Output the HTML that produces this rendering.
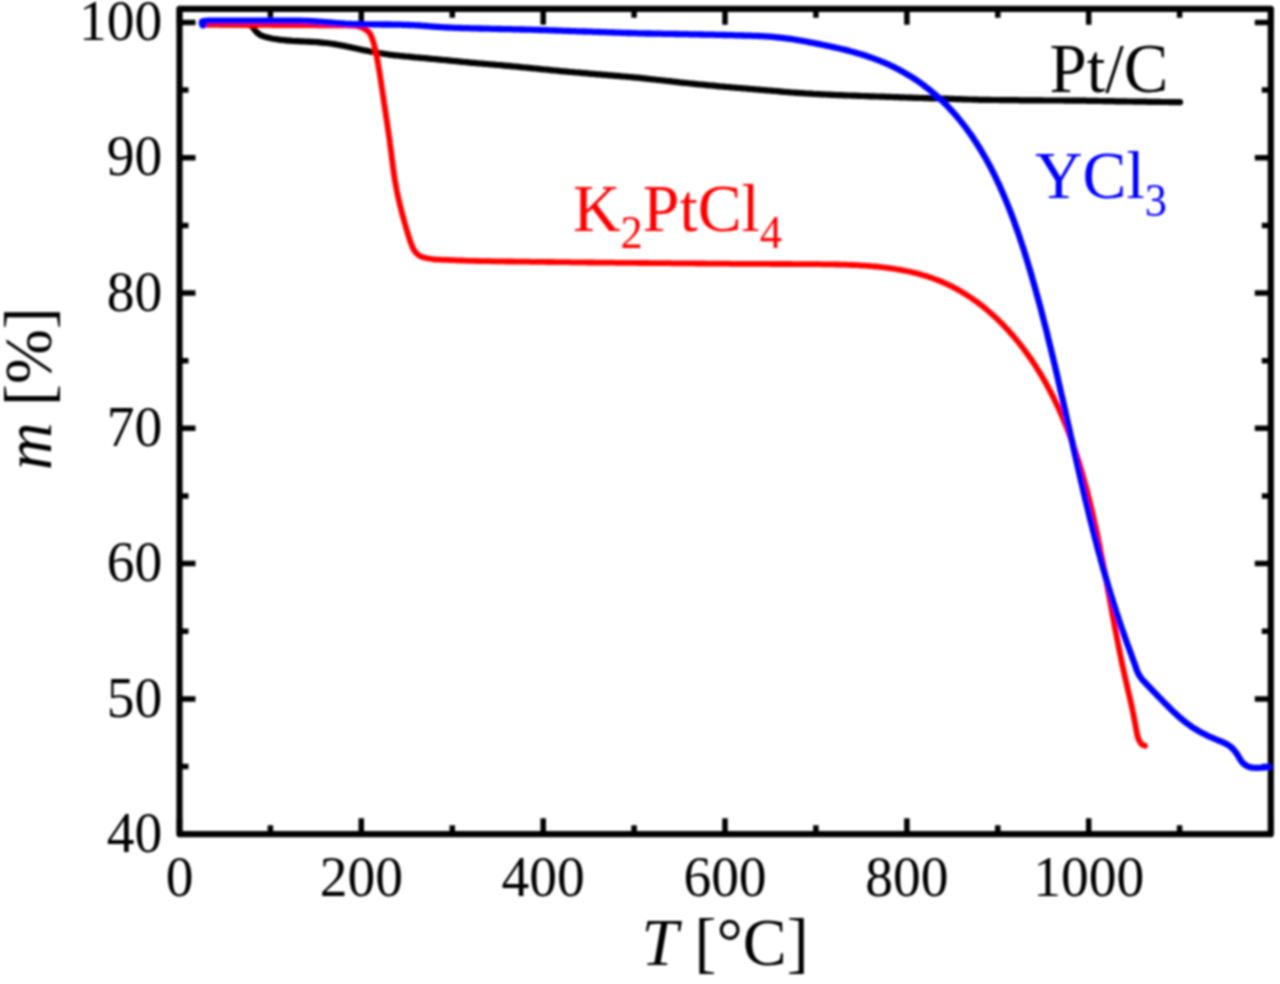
<!DOCTYPE html>
<html><head><meta charset="utf-8"><style>
html,body{margin:0;padding:0;background:#fff;}
body{width:1280px;height:984px;overflow:hidden;}
svg{display:block;} text{font-family:"Liberation Serif",serif;}
</style></head><body>
<svg width="1280" height="984" viewBox="0 0 1280 984">
<defs><filter id="bl" x="0" y="0" width="1280" height="984" filterUnits="userSpaceOnUse"><feGaussianBlur stdDeviation="0.8"/></filter></defs>
<rect width="1280" height="984" fill="#fff"/>
<g filter="url(#bl)">
<path d="M179.5 834.2V818.2M179.5 8.8V24.8M270.4 834.2V825.2M270.4 8.8V17.8M361.3 834.2V818.2M361.3 8.8V24.8M452.3 834.2V825.2M452.3 8.8V17.8M543.2 834.2V818.2M543.2 8.8V24.8M634.1 834.2V825.2M634.1 8.8V17.8M725.0 834.2V818.2M725.0 8.8V24.8M815.9 834.2V825.2M815.9 8.8V17.8M906.9 834.2V818.2M906.9 8.8V24.8M997.8 834.2V825.2M997.8 8.8V17.8M1088.7 834.2V818.2M1088.7 8.8V24.8M1179.6 834.2V825.2M1179.6 8.8V17.8M1270.8 834.2V818.2M1270.8 8.8V24.8M179.5 834.2H195.5M1270.8 834.2H1254.8M179.5 766.6H188.5M1270.8 766.6H1261.8M179.5 698.9H195.5M1270.8 698.9H1254.8M179.5 631.2H188.5M1270.8 631.2H1261.8M179.5 563.6H195.5M1270.8 563.6H1254.8M179.5 496.0H188.5M1270.8 496.0H1261.8M179.5 428.3H195.5M1270.8 428.3H1254.8M179.5 360.7H188.5M1270.8 360.7H1261.8M179.5 293.0H195.5M1270.8 293.0H1254.8M179.5 225.4H188.5M1270.8 225.4H1261.8M179.5 157.7H195.5M1270.8 157.7H1254.8M179.5 90.1H188.5M1270.8 90.1H1261.8M179.5 22.4H195.5M1270.8 22.4H1254.8" stroke="#000" stroke-width="5.5" fill="none"/>
<rect x="179.5" y="8.8" width="1091.3" height="825.4000000000001" fill="none" stroke="#000" stroke-width="6.2" stroke-linejoin="round"/>
<g fill="none" stroke-linecap="round" stroke-linejoin="round"><path d="M208.0 24.2L210.0 24.2L212.1 24.2L214.3 24.2L216.3 24.2L218.4 24.2L220.5 24.3L222.7 24.3L224.9 24.3L226.9 24.3L228.7 24.3L230.3 24.3L232.1 24.3L234.1 24.3L236.3 24.3L238.5 24.3L240.6 24.4L242.7 24.4L244.8 24.4L246.7 24.4L248.5 24.6L250.2 25.2L253.2 27.7L254.4 29.3L255.5 30.8L257.5 32.9L260.3 34.9L262.3 35.9L264.4 36.6L266.6 37.3L268.8 37.8L270.9 38.3L273.0 38.7L275.1 39.0L277.2 39.3L279.1 39.6L280.8 39.8L282.5 40.0L284.3 40.2L286.1 40.4L288.0 40.6L289.9 40.7L292.0 40.9L294.1 41.0L296.2 41.1L298.3 41.2L300.4 41.3L302.5 41.4L304.6 41.5L306.7 41.6L308.8 41.7L310.9 41.8L313.1 41.9L315.2 42.0L317.4 42.2L319.5 42.4L321.6 42.6L323.7 42.8L325.9 43.0L328.0 43.2L330.1 43.5L332.0 43.8L334.0 44.1L336.0 44.4L337.9 44.8L339.9 45.1L341.9 45.5L343.8 45.9L345.8 46.3L347.7 46.7L349.7 47.1L351.9 47.6L354.0 48.0L356.2 48.5L358.4 49.0L360.5 49.4L362.7 49.9L364.9 50.4L367.1 50.8L369.3 51.3L371.4 51.7L373.4 52.0L375.4 52.4L377.3 52.7L379.3 53.1L381.3 53.4L383.2 53.7L385.2 54.0L387.2 54.3L389.2 54.6L391.1 54.8L393.1 55.1L395.1 55.3L397.1 55.5L399.0 55.7L401.0 56.0L403.0 56.2L405.0 56.4L406.9 56.5L408.9 56.7L410.9 56.9L412.9 57.1L414.8 57.3L416.8 57.5L418.8 57.6L420.8 57.8L422.9 58.0L425.0 58.2L427.1 58.4L429.2 58.6L431.3 58.8L433.4 59.0L435.5 59.2L437.6 59.4L439.7 59.6L441.8 59.8L443.9 60.0L446.0 60.2L448.1 60.4L450.2 60.6L452.2 60.8L454.1 61.0L456.1 61.2L458.1 61.4L460.1 61.6L462.1 61.8L464.1 62.0L466.1 62.2L468.1 62.4L470.2 62.6L472.2 62.8L474.2 62.9L476.2 63.1L478.2 63.3L480.2 63.5L482.2 63.6L484.3 63.8L486.3 64.0L488.3 64.2L490.3 64.3L492.3 64.5L494.3 64.7L496.4 64.9L498.4 65.0L500.4 65.2L502.4 65.4L504.4 65.6L506.4 65.8L508.5 65.9L510.5 66.1L512.5 66.3L514.5 66.5L516.5 66.7L518.5 66.9L520.6 67.1L522.6 67.3L524.6 67.5L526.6 67.7L528.6 67.9L530.7 68.1L532.7 68.3L534.7 68.5L536.7 68.7L538.7 68.9L540.7 69.1L542.8 69.3L544.8 69.5L546.8 69.7L548.8 69.9L550.8 70.1L552.9 70.3L554.9 70.5L556.9 70.7L558.9 70.9L560.9 71.1L562.9 71.3L564.9 71.4L567.0 71.6L569.0 71.8L571.0 72.0L573.0 72.2L575.1 72.4L577.1 72.5L579.1 72.7L581.2 72.9L583.2 73.1L585.2 73.2L587.3 73.4L589.3 73.6L591.3 73.8L593.3 73.9L595.4 74.1L597.4 74.3L599.4 74.4L601.5 74.6L603.5 74.8L605.5 74.9L607.5 75.1L609.6 75.3L611.6 75.4L613.6 75.6L615.6 75.8L617.7 75.9L619.7 76.1L621.7 76.3L623.7 76.5L625.7 76.6L627.7 76.8L629.8 77.0L631.8 77.2L633.8 77.4L635.8 77.6L637.8 77.7L639.8 77.9L641.9 78.2L644.0 78.4L646.1 78.6L648.2 78.8L650.3 79.1L652.4 79.3L654.5 79.5L656.6 79.8L658.7 80.0L660.8 80.2L662.9 80.5L665.0 80.7L667.1 81.0L669.2 81.2L671.3 81.4L673.3 81.7L675.4 81.9L677.5 82.1L679.6 82.4L681.7 82.6L683.8 82.8L685.9 83.0L687.9 83.2L690.0 83.5L692.1 83.7L694.2 83.9L696.3 84.1L698.4 84.3L700.5 84.5L702.6 84.7L704.7 84.9L706.8 85.1L708.9 85.3L711.1 85.5L713.2 85.7L715.3 85.9L717.3 86.1L719.2 86.3L721.2 86.5L723.2 86.6L725.1 86.8L727.1 87.0L729.1 87.1L731.1 87.3L733.1 87.5L735.0 87.6L737.0 87.8L739.0 88.0L741.0 88.1L743.0 88.3L745.0 88.5L747.0 88.6L749.0 88.8L750.9 89.0L752.9 89.1L754.9 89.3L756.9 89.5L758.8 89.6L760.8 89.8L762.8 90.0L764.8 90.1L766.7 90.3L768.7 90.5L770.7 90.6L772.8 90.8L775.0 91.0L777.1 91.2L779.3 91.4L781.4 91.6L783.6 91.8L785.7 92.0L787.9 92.1L790.0 92.3L792.1 92.5L794.2 92.6L796.3 92.8L798.4 92.9L800.5 93.1L802.6 93.2L804.6 93.3L806.7 93.5L808.8 93.6L810.9 93.7L813.0 93.9L815.1 94.0L817.2 94.1L819.3 94.2L821.4 94.3L823.5 94.4L825.6 94.5L827.7 94.6L829.7 94.7L831.7 94.8L833.7 94.9L835.7 95.0L837.7 95.1L839.7 95.2L841.7 95.2L843.7 95.3L845.8 95.4L847.8 95.5L849.8 95.5L851.8 95.6L853.8 95.7L855.9 95.7L857.9 95.8L859.9 95.9L862.0 96.0L864.0 96.0L866.0 96.1L868.0 96.2L870.1 96.3L872.1 96.3L874.1 96.4L876.0 96.5L878.0 96.5L880.0 96.6L882.0 96.7L884.0 96.7L886.0 96.8L888.0 96.9L890.0 96.9L891.9 97.0L893.9 97.1L895.9 97.2L897.9 97.2L899.9 97.3L901.9 97.4L904.0 97.4L906.0 97.5L908.1 97.6L910.1 97.6L912.2 97.7L914.2 97.8L916.2 97.8L918.3 97.9L920.3 98.0L922.4 98.0L924.4 98.1L926.4 98.1L928.5 98.2L930.5 98.3L932.5 98.3L934.6 98.4L936.6 98.4L938.6 98.5L940.6 98.6L942.7 98.6L944.7 98.7L946.7 98.7L948.8 98.8L950.8 98.9L952.8 98.9L954.8 99.0L956.9 99.1L958.9 99.1L960.9 99.2L963.0 99.3L965.0 99.3L967.0 99.4L969.0 99.5L971.1 99.5L973.1 99.6L975.1 99.7L977.2 99.7L979.2 99.8L981.2 99.8L983.3 99.8L985.4 99.9L987.5 99.9L989.7 99.9L991.8 100.0L993.9 100.0L996.0 100.0L998.1 100.0L1000.2 100.1L1002.2 100.1L1004.2 100.1L1006.2 100.1L1008.1 100.1L1010.1 100.1L1012.1 100.2L1014.0 100.2L1016.0 100.2L1018.0 100.2L1020.0 100.3L1021.9 100.3L1023.9 100.3L1025.9 100.3L1027.9 100.3L1029.9 100.4L1031.9 100.4L1034.0 100.4L1036.0 100.4L1038.1 100.4L1040.1 100.4L1042.2 100.4L1044.2 100.5L1046.3 100.5L1048.3 100.5L1050.4 100.5L1052.4 100.5L1054.5 100.5L1056.5 100.5L1058.6 100.5L1060.6 100.5L1062.7 100.5L1064.7 100.6L1066.7 100.6L1068.8 100.6L1070.8 100.6L1072.9 100.6L1074.9 100.6L1077.0 100.6L1079.0 100.7L1081.0 100.7L1083.1 100.7L1085.1 100.7L1087.2 100.8L1089.2 100.8L1091.2 100.8L1093.3 100.9L1095.3 100.9L1097.4 100.9L1099.4 101.0L1101.5 101.0L1103.5 101.1L1105.6 101.1L1107.6 101.1L1109.7 101.2L1111.7 101.2L1113.8 101.2L1115.8 101.3L1117.9 101.3L1119.9 101.3L1122.0 101.4L1124.0 101.4L1126.1 101.4L1128.1 101.5L1130.1 101.5L1132.1 101.5L1134.1 101.6L1136.1 101.6L1138.1 101.6L1140.1 101.7L1142.0 101.7L1144.0 101.7L1146.0 101.7L1148.0 101.8L1149.9 101.8L1151.8 101.8L1153.6 101.8L1155.3 101.9L1157.4 101.9L1159.5 101.9L1161.6 102.0L1163.7 102.0L1165.7 102.0L1167.8 102.0L1169.8 102.1L1171.9 102.1L1173.9 102.1L1176.0 102.1L1178.0 102.2L1180.0 102.2" stroke="#000" stroke-width="6.2"/><path d="M204.0 24.5L206.0 24.5L208.1 24.5L210.2 24.5L212.2 24.6L214.2 24.6L216.3 24.6L218.4 24.6L220.4 24.6L222.5 24.6L224.6 24.6L226.7 24.7L228.8 24.7L230.6 24.7L232.4 24.7L234.3 24.7L236.3 24.7L238.3 24.7L240.3 24.7L242.3 24.8L244.3 24.8L246.3 24.8L248.3 24.8L250.3 24.8L252.3 24.8L254.3 24.8L256.3 24.8L258.4 24.9L260.4 24.9L262.4 24.9L264.4 24.9L266.4 24.9L268.4 24.9L270.4 24.9L272.5 25.0L274.5 25.0L276.5 25.0L278.5 25.0L280.5 25.0L282.5 25.0L284.5 25.0L286.5 25.0L288.6 25.1L290.6 25.1L292.6 25.1L294.6 25.1L296.6 25.1L298.6 25.1L300.6 25.1L302.7 25.2L304.7 25.2L306.7 25.2L308.7 25.2L310.7 25.2L312.7 25.2L314.7 25.2L316.7 25.2L318.7 25.3L320.7 25.3L322.7 25.3L324.7 25.3L326.6 25.3L328.4 25.3L330.2 25.3L332.3 25.3L334.4 25.4L336.5 25.4L338.6 25.4L340.6 25.4L342.7 25.4L344.8 25.4L346.8 25.4L348.9 25.5L350.9 25.5L352.8 25.5L354.7 25.7L357.3 26.1L359.9 26.8L362.0 27.6L364.1 28.6L367.0 30.5L368.4 31.7L369.5 33.0L370.6 34.9L371.6 37.0L372.4 39.2L373.2 41.4L373.9 43.8L374.5 46.3L375.1 48.7L375.6 51.2L376.1 53.8L376.6 56.0L377.0 58.0L377.3 59.9L377.7 61.9L378.1 64.0L378.4 66.1L378.8 68.2L379.1 70.3L379.5 72.3L379.8 74.2L380.1 76.2L380.4 78.2L380.7 80.1L381.0 82.1L381.3 84.1L381.6 86.1L381.9 88.1L382.2 90.1L382.5 92.1L382.8 94.1L383.1 96.2L383.4 98.2L383.7 100.2L384.0 102.2L384.3 104.3L384.6 106.3L384.9 108.3L385.2 110.3L385.5 112.4L385.8 114.4L386.1 116.4L386.4 118.4L386.7 120.4L387.0 122.4L387.3 124.5L387.6 126.5L387.9 128.6L388.2 130.8L388.6 133.0L388.9 135.1L389.2 137.3L389.5 139.5L389.8 141.6L390.0 143.8L390.3 146.0L390.6 148.1L390.9 150.3L391.2 152.3L391.4 154.3L391.6 156.3L391.9 158.2L392.1 160.2L392.4 162.2L392.6 164.2L392.9 166.1L393.1 168.1L393.4 170.1L393.7 172.0L394.0 174.0L394.2 176.0L394.6 178.0L394.9 180.2L395.3 182.4L395.7 184.7L396.1 186.9L396.5 189.1L396.9 191.3L397.4 193.6L397.9 195.8L398.4 198.0L398.8 200.2L399.3 202.1L399.7 204.0L400.2 205.9L400.7 207.7L401.1 209.6L401.6 211.5L402.1 213.4L402.6 215.3L403.1 217.1L403.6 219.0L404.1 220.8L404.7 222.7L405.2 224.6L405.7 226.3L406.2 228.2L406.8 230.3L407.5 232.4L408.1 234.5L408.7 236.5L409.3 238.5L410.0 240.5L410.7 242.7L411.6 244.9L412.4 247.0L413.4 249.0L414.5 250.9L415.7 252.4L417.0 253.8L418.5 255.1L420.1 256.1L421.9 256.9L423.9 257.5L426.0 257.9L427.8 258.3L429.9 258.7L431.9 259.0L434.0 259.3L436.1 259.5L438.3 259.6L440.4 259.7L442.6 259.8L444.8 259.9L447.0 259.9L449.2 260.0L451.4 260.1L453.7 260.2L456.0 260.3L458.2 260.4L460.2 260.5L462.1 260.5L464.1 260.6L466.1 260.7L468.2 260.8L470.3 260.8L472.3 260.9L474.3 260.9L476.3 261.0L478.3 261.0L480.3 261.1L482.3 261.1L484.3 261.1L486.3 261.2L488.3 261.2L490.3 261.2L492.3 261.3L494.3 261.3L496.3 261.3L498.3 261.4L500.4 261.4L502.4 261.4L504.4 261.4L506.4 261.5L508.5 261.5L510.5 261.5L512.5 261.5L514.5 261.6L516.5 261.6L518.6 261.6L520.6 261.6L522.6 261.7L524.6 261.7L526.7 261.7L528.7 261.7L530.7 261.8L532.7 261.8L534.8 261.8L536.8 261.8L538.8 261.9L540.8 261.9L542.9 261.9L544.9 261.9L546.9 262.0L548.9 262.0L551.0 262.0L553.0 262.0L555.0 262.1L557.0 262.1L559.0 262.1L561.1 262.1L563.1 262.2L565.1 262.2L567.1 262.2L569.2 262.2L571.2 262.3L573.2 262.3L575.2 262.3L577.3 262.3L579.3 262.4L581.3 262.4L583.3 262.4L585.4 262.4L587.4 262.5L589.4 262.5L591.4 262.5L593.5 262.5L595.5 262.6L597.5 262.6L599.5 262.6L601.5 262.6L603.6 262.6L605.6 262.7L607.6 262.7L609.6 262.7L611.7 262.7L613.7 262.7L615.7 262.8L617.7 262.8L619.7 262.8L621.8 262.8L623.8 262.8L625.8 262.8L627.8 262.9L629.9 262.9L631.9 262.9L633.9 262.9L635.9 262.9L637.9 263.0L640.0 263.0L642.0 263.0L644.0 263.0L646.0 263.0L648.1 263.0L650.1 263.1L652.1 263.1L654.1 263.1L656.1 263.1L658.2 263.1L660.2 263.1L662.2 263.2L664.2 263.2L666.2 263.2L668.3 263.2L670.3 263.2L672.3 263.3L674.3 263.3L676.4 263.3L678.4 263.3L680.4 263.3L682.4 263.3L684.4 263.4L686.5 263.4L688.5 263.4L690.5 263.4L692.5 263.4L694.6 263.4L696.6 263.5L698.6 263.5L700.6 263.5L702.6 263.5L704.7 263.5L706.7 263.6L708.7 263.6L710.7 263.6L712.8 263.6L714.8 263.6L716.8 263.6L718.8 263.7L720.8 263.7L722.9 263.7L724.9 263.7L726.9 263.7L728.9 263.7L731.0 263.8L733.0 263.8L735.0 263.8L737.0 263.8L739.0 263.8L741.1 263.8L743.1 263.8L745.1 263.8L747.1 263.8L749.1 263.9L751.2 263.9L753.2 263.9L755.2 263.9L757.2 263.9L759.2 263.9L761.3 263.9L763.3 263.9L765.3 263.9L767.3 263.9L769.3 263.9L771.4 264.0L773.4 264.0L775.4 264.0L777.4 264.0L779.3 264.0L781.3 264.0L783.3 264.0L785.2 264.0L787.1 264.0L789.0 264.0L790.9 264.0L792.8 264.1L794.7 264.1L796.6 264.1L798.4 264.1L800.2 264.1L802.1 264.1L804.8 264.1L807.6 264.2L810.4 264.2L813.3 264.2L816.2 264.2L819.1 264.2L822.1 264.3L825.1 264.3L828.0 264.3L830.9 264.4L833.9 264.4L836.6 264.5L838.5 264.5L840.3 264.6L842.1 264.6L843.9 264.7L845.8 264.7L847.7 264.8L849.6 264.9L851.5 265.0L853.4 265.0L855.4 265.1L857.3 265.2L859.3 265.3L861.3 265.5L863.3 265.6L865.3 265.7L867.3 265.9L869.3 266.0L871.4 266.2L873.4 266.3L875.4 266.5L877.4 266.7L879.4 266.9L881.4 267.1L883.4 267.4L885.4 267.6L887.3 267.8L889.3 268.1L891.3 268.4L893.2 268.7L895.1 269.0L897.1 269.3L899.0 269.6L900.8 269.9L902.6 270.3L904.5 270.6L906.3 271.0L908.1 271.3L909.8 271.7L911.6 272.1L913.4 272.6L916.0 273.2L918.7 273.9L921.5 274.7L924.2 275.5L926.9 276.3L929.6 277.2L932.3 278.1L934.9 279.1L937.4 280.0L939.9 281.0L942.3 282.0L944.7 283.1L947.1 284.2L949.5 285.3L951.8 286.4L954.1 287.6L956.4 288.9L958.7 290.1L960.9 291.4L963.1 292.7L965.3 294.1L967.5 295.5L969.7 296.9L971.8 298.3L974.0 299.8L976.1 301.3L978.2 302.9L980.3 304.5L982.4 306.1L984.4 307.7L986.4 309.4L988.4 311.1L990.4 312.8L992.4 314.6L994.3 316.4L996.3 318.2L998.2 320.0L1000.0 321.8L1001.9 323.6L1003.7 325.5L1005.5 327.4L1007.3 329.3L1009.1 331.3L1010.8 333.3L1012.6 335.3L1014.3 337.2L1015.9 339.2L1017.6 341.2L1019.2 343.2L1020.8 345.2L1022.4 347.3L1024.0 349.4L1025.5 351.5L1027.1 353.6L1028.6 355.7L1030.1 357.8L1031.6 360.0L1033.0 362.1L1034.5 364.3L1035.9 366.5L1037.3 368.7L1038.6 370.9L1040.0 373.1L1041.3 375.3L1042.6 377.5L1043.9 379.7L1045.2 382.0L1046.4 384.2L1047.7 386.5L1048.9 388.8L1050.1 391.1L1051.3 393.4L1052.5 395.7L1053.6 397.9L1054.7 400.2L1055.9 402.6L1057.0 405.0L1058.1 407.3L1059.2 409.7L1060.3 412.1L1061.3 414.6L1062.4 417.0L1063.4 419.4L1064.4 421.9L1065.5 424.4L1066.5 426.9L1067.5 429.4L1068.5 432.0L1069.4 434.5L1070.4 437.1L1071.3 439.6L1072.2 442.1L1073.1 444.6L1073.6 446.3L1074.2 447.9L1074.7 449.5L1075.3 451.2L1076.2 453.7L1077.0 456.4L1077.9 459.1L1078.7 461.7L1079.6 464.5L1080.4 467.3L1081.0 469.1L1081.5 470.9L1082.0 472.7L1082.5 474.5L1083.3 477.3L1084.1 480.2L1084.9 483.0L1085.4 484.8L1085.9 486.6L1086.4 488.5L1086.9 490.4L1087.4 492.2L1087.8 494.1L1088.3 496.0L1088.8 497.8L1089.3 499.7L1089.7 501.6L1090.2 503.5L1090.6 505.4L1091.1 507.3L1091.6 509.3L1092.0 511.2L1092.5 513.2L1093.0 515.2L1093.4 517.2L1093.9 519.1L1094.3 521.1L1094.7 523.1L1095.2 525.1L1095.6 527.0L1096.0 529.0L1096.5 531.0L1096.9 532.9L1097.3 534.9L1097.7 536.9L1098.1 538.9L1098.5 540.9L1099.0 542.9L1099.4 544.9L1099.8 546.9L1100.2 548.9L1100.5 550.8L1100.9 552.8L1101.3 554.8L1101.7 556.8L1102.1 558.8L1102.5 560.8L1102.9 562.8L1103.3 564.8L1103.7 566.8L1104.0 568.9L1104.4 570.8L1104.8 572.8L1105.1 574.7L1105.5 576.7L1105.9 578.7L1106.3 580.7L1106.6 582.7L1107.0 584.7L1107.4 586.7L1107.7 588.6L1108.1 590.6L1108.4 592.5L1108.8 594.5L1109.2 596.4L1109.5 598.4L1109.9 600.3L1110.2 602.2L1110.6 604.1L1110.9 606.0L1111.3 607.9L1111.6 609.8L1112.0 611.6L1112.3 613.4L1112.6 615.3L1113.2 618.1L1113.7 621.0L1114.2 623.8L1114.6 625.6L1114.9 627.4L1115.2 629.1L1115.6 631.0L1116.1 633.6L1116.6 636.3L1117.1 639.0L1117.7 641.7L1118.2 644.5L1118.7 647.2L1119.3 649.9L1119.8 652.6L1120.4 655.2L1120.9 657.8L1121.4 660.5L1122.0 663.1L1122.5 665.6L1123.1 668.1L1123.6 670.7L1124.2 673.2L1124.7 675.8L1125.3 678.3L1125.9 680.9L1126.5 683.4L1127.0 686.0L1127.6 688.5L1128.2 691.0L1128.8 693.6L1129.4 696.2L1130.0 698.8L1130.6 701.4L1131.2 703.9L1131.7 706.5L1132.3 708.9L1132.6 710.6L1133.0 712.3L1133.3 714.0L1133.7 715.8L1134.0 717.7L1134.4 719.6L1134.8 721.6L1135.2 723.8L1135.6 726.1L1136.0 728.4L1136.4 730.6L1136.8 732.7L1137.2 734.7L1137.7 736.7L1138.5 739.2L1139.7 741.5L1141.0 743.5L1142.7 744.9L1145.0 745.8" stroke="#f00" stroke-width="5.8"/><path d="M202.0 22.0L206.0 20.8L207.9 20.7L209.6 20.7L211.6 20.6L213.6 20.6L215.8 20.6L217.9 20.6L220.0 20.6L222.1 20.6L224.3 20.6L226.5 20.6L228.3 20.6L230.1 20.6L232.0 20.6L234.0 20.6L236.0 20.6L238.1 20.6L240.1 20.6L242.1 20.6L244.1 20.6L246.2 20.6L248.2 20.6L250.2 20.6L252.2 20.6L254.2 20.6L256.3 20.6L258.3 20.6L260.3 20.6L262.3 20.6L264.4 20.6L266.4 20.6L268.4 20.6L270.4 20.6L272.5 20.6L274.5 20.6L276.5 20.6L278.5 20.6L280.6 20.6L282.6 20.6L284.6 20.6L286.6 20.6L288.7 20.6L290.7 20.6L292.7 20.6L294.7 20.7L296.7 20.7L298.7 20.7L300.7 20.7L302.7 20.8L304.7 20.8L306.7 20.9L308.7 21.0L310.7 21.1L312.8 21.2L315.0 21.3L317.2 21.5L319.3 21.6L321.5 21.8L323.6 22.0L325.8 22.1L327.9 22.3L330.0 22.5L332.1 22.7L334.2 22.9L336.3 23.1L338.4 23.2L340.5 23.4L342.6 23.5L344.7 23.7L346.8 23.8L348.9 23.9L350.9 24.0L353.0 24.1L355.0 24.2L357.1 24.2L359.1 24.3L361.2 24.3L363.3 24.3L365.3 24.4L367.4 24.4L369.4 24.4L371.5 24.4L373.5 24.4L375.6 24.4L377.7 24.4L379.7 24.4L381.8 24.5L383.8 24.5L385.9 24.5L388.0 24.5L390.1 24.5L392.2 24.6L394.3 24.6L396.5 24.6L398.6 24.7L400.7 24.7L402.8 24.8L404.9 24.8L407.0 24.9L409.1 25.0L411.2 25.1L413.4 25.2L415.5 25.3L417.6 25.4L419.7 25.5L421.8 25.7L423.9 25.8L426.0 26.0L428.1 26.2L430.2 26.3L432.1 26.5L434.1 26.6L436.1 26.8L438.0 26.9L440.0 27.1L442.1 27.2L444.1 27.3L446.2 27.4L448.2 27.5L450.3 27.6L452.3 27.7L454.4 27.8L456.5 27.9L458.6 27.9L460.6 28.0L462.7 28.1L464.8 28.1L466.9 28.2L469.0 28.2L471.0 28.3L473.1 28.3L475.2 28.4L477.2 28.4L479.2 28.5L481.1 28.5L483.1 28.6L485.1 28.6L487.1 28.7L489.1 28.7L491.1 28.8L493.0 28.8L495.0 28.9L497.0 28.9L499.0 29.0L501.0 29.0L503.0 29.1L505.0 29.1L507.0 29.1L509.0 29.2L511.0 29.2L513.0 29.3L515.0 29.3L517.0 29.4L519.0 29.4L521.0 29.5L523.0 29.5L525.0 29.6L527.0 29.6L528.9 29.7L530.9 29.7L533.0 29.8L535.0 29.9L537.0 29.9L539.0 30.0L541.1 30.1L543.1 30.1L545.1 30.2L547.1 30.2L549.1 30.3L551.2 30.4L553.2 30.4L555.2 30.5L557.2 30.6L559.2 30.7L561.3 30.7L563.3 30.8L565.3 30.9L567.3 30.9L569.3 31.0L571.4 31.1L573.4 31.1L575.4 31.2L577.4 31.3L579.4 31.3L581.4 31.4L583.5 31.5L585.5 31.5L587.5 31.6L589.5 31.7L591.5 31.7L593.6 31.8L595.6 31.9L597.6 31.9L599.6 32.0L601.6 32.1L603.7 32.2L605.7 32.2L607.7 32.3L609.7 32.4L611.7 32.4L613.7 32.5L615.8 32.6L617.8 32.6L619.8 32.7L621.8 32.8L623.8 32.8L625.8 32.9L627.8 33.0L629.8 33.0L631.8 33.1L633.8 33.1L635.8 33.2L637.8 33.3L639.8 33.3L641.9 33.4L644.0 33.4L646.1 33.5L648.2 33.5L650.3 33.5L652.4 33.6L654.5 33.6L656.6 33.7L658.7 33.7L660.8 33.7L662.9 33.8L665.0 33.8L667.1 33.8L669.2 33.9L671.2 33.9L673.3 33.9L675.4 34.0L677.5 34.0L679.6 34.1L681.7 34.1L683.8 34.1L685.8 34.2L687.9 34.2L690.0 34.3L692.1 34.3L694.2 34.3L696.3 34.4L698.4 34.4L700.5 34.5L702.6 34.5L704.7 34.6L706.8 34.6L708.9 34.6L711.0 34.7L713.2 34.7L715.3 34.8L717.2 34.8L719.2 34.9L721.2 34.9L723.2 35.0L725.1 35.0L727.1 35.1L729.1 35.1L731.1 35.2L733.1 35.2L735.0 35.3L737.0 35.3L739.0 35.4L741.0 35.4L743.0 35.5L745.0 35.6L747.0 35.6L749.0 35.7L750.9 35.7L752.9 35.8L754.9 35.9L756.9 35.9L758.8 36.0L760.8 36.1L762.8 36.2L764.7 36.3L766.7 36.4L768.7 36.6L770.7 36.7L772.8 36.9L775.0 37.1L777.2 37.3L779.4 37.5L781.5 37.8L783.7 38.0L785.9 38.3L788.1 38.6L790.2 38.9L792.2 39.2L794.2 39.5L796.1 39.8L798.1 40.2L800.0 40.5L802.0 40.8L803.9 41.2L805.9 41.5L807.8 41.9L809.8 42.3L811.7 42.6L813.6 43.0L815.6 43.4L817.5 43.8L819.5 44.2L821.4 44.6L823.4 45.0L825.3 45.4L827.3 45.8L829.3 46.2L831.3 46.7L833.3 47.1L835.4 47.6L837.4 48.0L839.4 48.5L841.4 49.0L843.4 49.4L845.3 49.9L847.3 50.4L849.3 50.9L851.3 51.5L853.3 52.0L855.2 52.6L857.3 53.2L859.5 53.8L861.6 54.4L863.7 55.1L865.8 55.8L867.9 56.5L870.0 57.2L872.0 57.9L874.0 58.6L876.0 59.4L878.0 60.1L879.9 60.9L881.7 61.6L883.6 62.4L885.4 63.2L887.1 63.9L888.9 64.7L890.6 65.5L892.3 66.3L894.0 67.1L895.6 68.0L897.2 68.8L898.9 69.6L901.2 70.9L903.8 72.3L906.2 73.8L908.6 75.2L911.0 76.6L913.4 78.1L915.7 79.7L918.0 81.2L920.2 82.8L922.3 84.3L924.5 85.9L926.5 87.5L928.5 89.0L930.5 90.6L932.5 92.3L934.4 93.9L936.4 95.6L938.3 97.3L940.2 99.0L942.0 100.8L943.8 102.5L945.6 104.3L947.4 106.1L949.1 108.0L950.9 109.8L952.6 111.7L954.3 113.6L956.0 115.5L957.6 117.4L959.2 119.4L960.8 121.4L962.4 123.4L964.0 125.4L965.6 127.4L967.1 129.5L968.6 131.6L970.1 133.6L971.6 135.7L973.0 137.8L974.4 140.0L975.9 142.1L977.2 144.3L978.6 146.5L980.0 148.7L981.3 150.9L982.6 153.1L983.9 155.3L985.2 157.5L986.5 159.8L987.8 162.2L989.1 164.5L990.3 166.8L991.5 169.2L992.7 171.6L994.0 174.0L995.2 176.5L996.4 179.0L997.5 181.4L998.7 183.9L999.8 186.3L1000.9 188.9L1002.1 191.5L1003.2 194.0L1003.9 195.7L1004.6 197.4L1005.3 199.0L1006.0 200.7L1007.1 203.3L1008.2 206.2L1009.3 208.8L1010.0 210.6L1010.6 212.3L1011.3 214.0L1012.0 215.8L1012.7 217.7L1013.4 219.5L1014.0 221.3L1014.7 223.1L1015.3 225.0L1016.0 226.8L1016.6 228.7L1017.3 230.5L1018.0 232.4L1018.6 234.3L1019.3 236.2L1019.9 238.1L1020.5 240.1L1021.2 242.0L1021.8 243.9L1022.4 245.8L1023.1 247.7L1023.7 249.7L1024.3 251.6L1024.9 253.5L1025.5 255.5L1026.1 257.4L1026.7 259.4L1027.3 261.4L1027.9 263.3L1028.5 265.2L1029.0 267.1L1029.6 268.9L1030.2 270.8L1030.7 272.7L1031.3 274.6L1031.8 276.5L1032.3 278.4L1032.9 280.2L1033.4 282.1L1033.9 284.0L1034.5 285.9L1035.0 287.8L1035.5 289.7L1036.1 291.6L1036.8 294.4L1037.7 297.5L1038.4 300.3L1039.0 302.2L1039.5 304.0L1040.0 305.9L1040.5 307.8L1041.0 309.7L1041.5 311.6L1041.9 313.4L1042.4 315.3L1043.1 318.0L1043.9 321.0L1044.6 323.7L1045.1 325.6L1045.5 327.4L1046.0 329.2L1046.5 331.0L1046.9 332.9L1047.4 334.7L1047.8 336.5L1048.2 338.3L1048.9 341.0L1049.6 344.0L1050.3 346.8L1050.8 348.7L1051.2 350.5L1051.7 352.3L1052.1 354.3L1052.8 357.1L1053.5 360.0L1054.1 362.7L1054.6 364.5L1055.0 366.3L1055.4 368.1L1055.8 369.9L1056.3 371.7L1056.7 373.5L1057.1 375.2L1057.5 377.0L1058.1 379.6L1058.7 382.4L1059.3 385.1L1059.8 386.8L1060.1 388.5L1060.5 390.2L1060.9 392.0L1061.5 394.7L1062.2 397.4L1062.8 400.1L1063.4 402.8L1064.0 405.6L1064.6 408.3L1065.2 411.0L1065.8 413.7L1066.4 416.4L1067.0 419.1L1067.6 421.8L1068.2 424.5L1068.9 427.2L1069.5 429.9L1070.1 432.6L1070.6 435.2L1071.2 437.8L1071.8 440.3L1072.2 441.9L1072.5 443.5L1072.9 445.1L1073.2 446.8L1073.8 449.2L1074.4 451.9L1075.0 454.5L1075.6 457.1L1076.2 459.7L1076.8 462.4L1077.4 465.0L1078.0 467.7L1078.6 470.3L1079.2 473.0L1079.8 475.6L1080.4 478.2L1081.0 480.7L1081.6 483.3L1082.2 485.9L1082.8 488.5L1083.4 491.0L1084.0 493.6L1084.6 496.1L1085.2 498.7L1085.8 501.3L1086.5 503.8L1087.1 506.4L1087.7 509.0L1088.3 511.6L1089.0 514.1L1089.6 516.7L1090.2 519.3L1090.9 521.8L1091.5 524.4L1092.2 527.0L1092.8 529.5L1093.5 532.1L1094.1 534.6L1094.8 537.2L1095.4 539.7L1096.1 542.2L1096.8 544.8L1097.4 547.4L1098.1 549.9L1098.8 552.4L1099.5 554.9L1100.2 557.5L1100.9 560.1L1101.6 562.7L1102.3 565.2L1103.0 567.8L1103.7 570.3L1104.5 572.8L1105.2 575.4L1105.9 577.9L1106.7 580.5L1107.4 583.0L1108.2 585.6L1109.0 588.3L1109.8 590.9L1110.6 593.6L1111.5 596.4L1112.3 599.1L1113.1 601.8L1114.0 604.5L1114.9 607.3L1115.7 609.8L1116.2 611.5L1116.8 613.2L1117.3 614.8L1117.8 616.4L1118.4 618.1L1118.9 619.7L1119.5 621.4L1120.0 623.0L1120.6 624.8L1121.2 626.5L1121.8 628.2L1122.4 630.0L1123.4 632.7L1124.4 635.6L1125.4 638.5L1126.4 641.3L1127.4 644.1L1128.4 646.7L1129.0 648.4L1129.6 650.0L1130.3 651.9L1130.9 653.6L1131.5 655.3L1132.1 656.9L1132.7 658.6L1133.4 660.5L1134.3 662.9L1135.2 665.4L1136.0 667.8L1136.7 670.0L1137.6 672.1L1138.7 674.3L1140.0 676.5L1141.5 678.6L1142.7 680.1L1144.1 681.6L1145.5 683.0L1146.8 684.4L1148.2 685.8L1149.8 687.5L1151.5 689.3L1153.1 691.0L1154.8 692.8L1156.5 694.5L1158.2 696.3L1159.6 697.8L1161.1 699.2L1162.6 700.8L1164.1 702.4L1165.7 704.0L1167.3 705.6L1168.9 707.2L1170.4 708.7L1171.9 710.2L1173.5 711.7L1175.0 713.1L1176.6 714.6L1178.1 716.0L1179.6 717.3L1181.0 718.5L1182.5 719.8L1184.0 721.0L1185.5 722.2L1187.0 723.4L1188.6 724.5L1190.2 725.7L1191.8 726.8L1193.4 727.9L1195.2 729.0L1196.9 730.0L1198.6 731.1L1200.4 732.1L1202.2 733.0L1204.0 733.9L1205.8 734.8L1207.6 735.7L1209.5 736.6L1211.3 737.4L1213.1 738.2L1214.8 738.9L1216.5 739.6L1218.5 740.5L1220.6 741.3L1222.7 742.2L1224.7 743.1L1226.7 744.1L1228.5 745.2L1230.3 746.5L1232.0 747.9L1233.5 749.5L1234.9 751.2L1236.2 752.9L1237.5 754.8L1238.6 756.8L1239.8 758.7L1241.0 760.7L1242.4 762.4L1243.9 763.9L1245.6 765.1L1247.4 766.2L1249.3 767.0L1251.1 767.5L1253.1 767.7L1254.9 767.8L1256.8 767.9L1258.7 767.8L1261.2 767.7L1263.8 767.5L1266.3 767.2L1268.8 766.9" stroke="#00f" stroke-width="6.3"/><ellipse cx="203" cy="23.2" rx="4.3" ry="5.2" fill="#00f"/></g>
<g font-family="Liberation Serif" font-size="57.5" fill="#000"><text transform="translate(179.5 895.8) scale(0.965 1)" text-anchor="middle">0</text><text transform="translate(361.3 895.8) scale(0.965 1)" text-anchor="middle">200</text><text transform="translate(543.2 895.8) scale(0.965 1)" text-anchor="middle">400</text><text transform="translate(725.0 895.8) scale(0.965 1)" text-anchor="middle">600</text><text transform="translate(906.9 895.8) scale(0.965 1)" text-anchor="middle">800</text><text transform="translate(1088.7 895.8) scale(0.965 1)" text-anchor="middle">1000</text><text transform="translate(162.2 851.9) scale(0.965 1)" text-anchor="end">40</text><text transform="translate(162.2 716.6) scale(0.965 1)" text-anchor="end">50</text><text transform="translate(162.2 581.3) scale(0.965 1)" text-anchor="end">60</text><text transform="translate(162.2 446.0) scale(0.965 1)" text-anchor="end">70</text><text transform="translate(162.2 310.7) scale(0.965 1)" text-anchor="end">80</text><text transform="translate(162.2 175.4) scale(0.965 1)" text-anchor="end">90</text><text transform="translate(162.2 40.1) scale(0.965 1)" text-anchor="end">100</text></g>
<text transform="translate(641.5 964.8) scale(0.968 1)" font-family="Liberation Serif" font-size="68" fill="#000"><tspan font-style="italic">T</tspan> [°C]</text>
<text transform="translate(51,470) rotate(-90) scale(0.968 1)" font-family="Liberation Serif" font-size="68" fill="#000"><tspan font-style="italic">m</tspan> [%]</text>
<text transform="translate(1049.5 91.75) scale(0.955 1)" font-family="Liberation Serif" font-size="70" fill="#000">Pt/C</text>
<text transform="translate(1035 197.5) scale(0.968 1)" font-family="Liberation Serif" font-size="68" fill="#00f">YCl<tspan font-size="46" dy="18.5">3</tspan></text>
<text transform="translate(573 230.9) scale(0.968 1)" font-family="Liberation Serif" font-size="68" fill="#f00">K<tspan font-size="46" dy="17">2</tspan><tspan dy="-17">PtCl</tspan><tspan font-size="46" dy="17">4</tspan></text>
</g>
</svg>
</body></html>
